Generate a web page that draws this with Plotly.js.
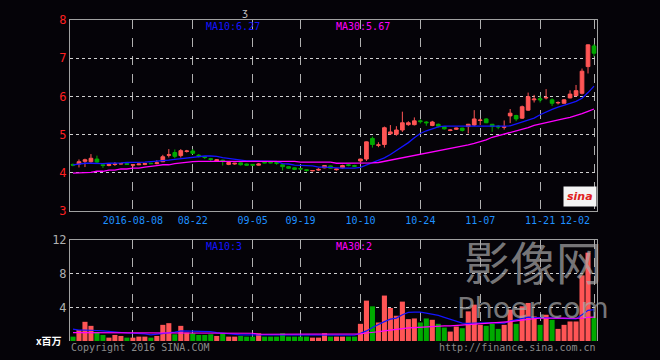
<!DOCTYPE html>
<html><head><meta charset="utf-8">
<script src="https://cdn.plot.ly/plotly-3.0.1.min.js"></script>
<style>html,body{margin:0;padding:0;background:#050308;}#c{width:660px;height:360px;}</style>
</head><body><div id="c"></div>
<script>
const dates = ['2016-07-25','2016-07-26','2016-07-27','2016-07-28','2016-07-29',
'2016-08-01','2016-08-02','2016-08-03','2016-08-04','2016-08-05',
'2016-08-08','2016-08-09','2016-08-10','2016-08-11','2016-08-12',
'2016-08-15','2016-08-16','2016-08-17','2016-08-18','2016-08-19',
'2016-08-22','2016-08-23','2016-08-24','2016-08-25','2016-08-26',
'2016-08-29','2016-08-30','2016-08-31','2016-09-01','2016-09-02',
'2016-09-05','2016-09-06','2016-09-07','2016-09-08','2016-09-09',
'2016-09-12','2016-09-13','2016-09-14',
'2016-09-19','2016-09-20','2016-09-21','2016-09-22','2016-09-23',
'2016-09-26','2016-09-27','2016-09-28','2016-09-29','2016-09-30',
'2016-10-10','2016-10-11','2016-10-12','2016-10-13','2016-10-14',
'2016-10-17','2016-10-18','2016-10-19','2016-10-20','2016-10-21',
'2016-10-24','2016-10-25','2016-10-26','2016-10-27','2016-10-28',
'2016-10-31','2016-11-01','2016-11-02','2016-11-03','2016-11-04',
'2016-11-07','2016-11-08','2016-11-09','2016-11-10','2016-11-11',
'2016-11-14','2016-11-15','2016-11-16','2016-11-17','2016-11-18',
'2016-11-21','2016-11-22','2016-11-23','2016-11-24','2016-11-25',
'2016-11-28','2016-11-29','2016-11-30','2016-12-01','2016-12-02'];

const open = [4.22,4.23,4.30,4.29,4.36,4.21,4.19,4.22,4.23,4.24,
4.20,4.21,4.22,4.25,4.24,4.29,4.46,4.53,4.45,4.56,
4.57,4.46,4.42,4.37,4.31,4.33,4.22,4.23,4.26,4.23,
4.22,4.20,4.28,4.28,4.27,4.21,4.16,4.13,4.11,4.08,
4.05,4.07,4.13,4.18,4.08,4.13,4.21,4.19,4.31,4.36,
4.90,4.72,4.74,5.02,5.01,5.12,5.26,5.26,5.36,5.33,
5.24,5.27,5.21,5.11,5.14,5.17,5.21,5.25,5.37,5.41,
5.27,5.22,5.19,5.49,5.50,5.43,5.64,5.91,5.94,5.96,
5.91,5.83,5.82,5.96,6.02,6.08,6.78,7.32];
const high = [4.24,4.35,4.37,4.49,4.45,4.22,4.23,4.28,4.25,4.25,
4.22,4.24,4.25,4.26,4.33,4.47,4.62,4.61,4.62,4.60,
4.62,4.49,4.44,4.39,4.36,4.34,4.28,4.26,4.27,4.24,
4.23,4.25,4.29,4.29,4.28,4.22,4.17,4.14,4.13,4.09,
4.07,4.12,4.20,4.19,4.11,4.21,4.23,4.21,4.37,4.82,
4.95,4.80,5.21,5.25,5.22,5.60,5.35,5.45,5.40,5.35,
5.36,5.29,5.22,5.14,5.18,5.18,5.28,5.64,5.42,5.43,
5.28,5.25,5.37,5.67,5.52,5.76,6.10,6.04,6.02,6.19,
5.95,5.87,5.93,6.16,6.30,6.73,7.36,7.37];
const low = [4.17,4.14,4.15,4.26,4.23,4.13,4.17,4.18,4.22,4.21,
4.15,4.20,4.20,4.23,4.22,4.28,4.40,4.38,4.40,4.53,
4.49,4.40,4.36,4.29,4.29,4.19,4.20,4.21,4.19,4.19,
4.19,4.19,4.25,4.25,4.21,4.06,4.11,4.07,4.07,4.03,
4.04,4.05,4.12,4.11,4.06,4.11,4.17,4.15,4.24,4.31,
4.66,4.67,4.66,5.00,4.97,5.07,5.23,5.24,5.29,5.23,
5.22,5.18,5.13,5.09,5.12,5.08,5.03,5.22,5.25,5.30,
5.07,5.14,5.13,5.30,5.35,5.41,5.62,5.84,5.84,5.92,
5.75,5.79,5.81,5.95,6.00,6.05,6.60,7.04];
const close = [4.20,4.29,4.34,4.38,4.28,4.19,4.22,4.23,4.24,4.22,
4.21,4.23,4.24,4.24,4.26,4.42,4.47,4.43,4.58,4.57,
4.51,4.44,4.40,4.35,4.34,4.30,4.27,4.25,4.21,4.20,
4.20,4.23,4.26,4.26,4.25,4.16,4.12,4.09,4.10,4.06,
4.06,4.09,4.19,4.12,4.10,4.19,4.19,4.17,4.36,4.81,
4.74,4.73,5.18,5.07,5.12,5.31,5.31,5.36,5.34,5.31,
5.33,5.22,5.15,5.12,5.17,5.11,5.27,5.41,5.38,5.31,
5.21,5.20,5.21,5.56,5.41,5.73,5.99,5.93,5.91,5.97,
5.82,5.84,5.91,6.06,6.15,6.66,7.35,7.13];

const ma10 = [4.21,4.23,4.25,4.25,4.24,4.24,4.25,4.25,4.26,4.27,
4.27,4.27,4.28,4.29,4.30,4.31,4.33,4.35,4.37,4.39,
4.41,4.43,4.44,4.44,4.43,4.40,4.38,4.36,4.33,4.31,
4.31,4.31,4.31,4.31,4.30,4.24,4.23,4.20,4.20,4.19,
4.18,4.15,4.15,4.14,4.12,4.12,4.12,4.12,4.14,4.20,
4.26,4.32,4.39,4.48,4.58,4.68,4.79,4.92,5.03,5.10,
5.16,5.20,5.22,5.22,5.22,5.22,5.22,5.22,5.21,5.21,
5.21,5.22,5.22,5.23,5.28,5.33,5.38,5.43,5.52,5.60,
5.66,5.72,5.78,5.82,5.87,5.95,6.10,6.27];
const ma30 = [3.99,4.00,4.00,4.01,4.04,4.04,4.07,4.07,4.10,4.10,
4.12,4.12,4.15,4.16,4.19,4.21,4.21,4.24,4.26,4.28,
4.29,4.30,4.30,4.30,4.30,4.30,4.30,4.31,4.31,4.31,
4.31,4.31,4.31,4.31,4.31,4.31,4.30,4.30,4.28,4.28,
4.28,4.28,4.28,4.28,4.25,4.25,4.25,4.25,4.25,4.26,
4.26,4.27,4.30,4.33,4.36,4.39,4.42,4.45,4.48,4.51,
4.54,4.57,4.60,4.63,4.66,4.70,4.73,4.77,4.81,4.86,
4.93,4.97,5.00,5.04,5.09,5.13,5.18,5.24,5.28,5.32,
5.36,5.39,5.42,5.45,5.49,5.55,5.61,5.67];

const volume = [0.52,1.3,2.28,1.8,1.08,0.72,0.4,0.72,0.6,0.4,
0.4,0.52,0.52,0.4,0.6,1.92,2.12,0.8,1.8,1.0,
0.92,0.72,0.72,0.8,0.6,0.92,0.52,0.52,0.6,0.52,
0.52,0.92,0.52,0.52,0.52,0.92,0.52,0.52,0.52,0.52,
0.4,0.4,0.92,0.52,0.52,0.52,0.52,0.52,2.04,4.8,
4.12,2.2,5.4,3.92,3.0,4.68,2.6,2.68,2.2,2.68,
2.52,2.04,1.6,1.12,1.72,1.52,3.52,4.32,1.92,1.8,
2.04,1.44,1.92,3.72,2.04,4.12,4.52,2.92,1.92,3.12,
2.52,1.44,1.92,2.32,2.32,7.8,10.5,2.72];
const volMa10 = [1.4,1.3,1.3,1.3,1.25,1.2,1.12,1.12,1.05,0.95,
0.92,0.92,0.85,0.72,0.8,0.92,0.92,1.05,1.2,1.2,
1.2,1.15,1.12,1.12,1.0,0.92,0.85,0.8,0.72,0.72,
0.72,0.72,0.72,0.72,0.72,0.72,0.72,0.72,0.72,0.72,
0.72,0.72,0.72,0.64,0.64,0.64,0.64,0.7,0.9,1.2,
1.6,2.0,2.3,2.6,2.72,3.12,3.4,3.44,3.44,3.32,
3.2,3.04,2.8,2.6,2.36,2.12,2.1,2.12,2.2,2.24,
2.2,2.12,2.12,2.36,2.52,2.72,2.84,2.8,2.78,2.76,
2.76,2.72,2.68,2.66,2.64,3.12,3.64,3.72];
const volMa30 = [1.0,1.0,1.0,1.0,1.0,1.0,1.0,1.0,0.98,0.98,
0.98,0.98,0.98,0.98,0.98,0.98,0.98,0.98,0.98,0.98,
0.98,0.92,0.92,0.92,0.92,0.92,0.92,0.92,0.92,0.92,
0.92,0.8,0.8,0.8,0.8,0.8,0.8,0.8,0.8,0.8,
0.8,0.8,0.8,0.8,0.8,0.8,0.8,0.8,0.85,0.95,
1.0,1.1,1.2,1.3,1.4,1.45,1.55,1.6,1.65,1.7,
1.7,1.75,1.8,1.8,1.85,1.9,1.95,1.95,2.0,2.05,
2.1,2.15,2.2,2.3,2.4,2.5,2.6,2.65,2.7,2.72,
2.72,2.72,2.72,2.7,2.68,2.72,2.8,2.84];

const tickDates = ['2016-08-08','2016-08-22','2016-09-05','2016-09-19','2016-10-10','2016-10-24','2016-11-07','2016-11-21','2016-12-02'];
const tickLabels = ['2016-08-08','08-22','09-05','09-19','10-10','10-24','11-07','11-21',''];
const lastTickLabel = '12-02';
const priceTicks = [3,4,5,6,7,8];
const volTicks = [4,8,12];

const UP = '#ff5555', DOWN = '#00aa00';
const volColors = close.map((c,i)=> c > open[i] ? UP : DOWN);
const MONO = 'DejaVu Sans Mono, monospace';

const traces = [
  {type:'candlestick', x:dates, open:open, high:high, low:low, close:close,
   xaxis:'x', yaxis:'y', whiskerwidth:0,
   increasing:{line:{color:UP,width:1}, fillcolor:UP},
   decreasing:{line:{color:DOWN,width:1}, fillcolor:DOWN},
   hoverinfo:'skip'},
  {type:'scatter', mode:'lines', x:dates, y:ma10, xaxis:'x', yaxis:'y',
   line:{color:'#1414ff', width:1.3}, hoverinfo:'skip'},
  {type:'scatter', mode:'lines', x:dates, y:ma30, xaxis:'x', yaxis:'y',
   line:{color:'#ff00ff', width:1.3}, hoverinfo:'skip'},
  {type:'bar', x:dates, y:volume, xaxis:'x2', yaxis:'y2',
   marker:{color:volColors, line:{width:0}}, hoverinfo:'skip'},
  {type:'scatter', mode:'lines', x:dates, y:volMa10, xaxis:'x2', yaxis:'y2',
   line:{color:'#1414ff', width:1.2}, hoverinfo:'skip'},
  {type:'scatter', mode:'lines', x:dates, y:volMa30, xaxis:'x2', yaxis:'y2',
   line:{color:'#ff00ff', width:1.2}, hoverinfo:'skip'}
];

const px = v => (v-70)/527;
const py = v => (341-v)/321;

const layout = {
  width:660, height:360,
  margin:{l:70, r:63, t:20, b:19},
  paper_bgcolor:'#050308', plot_bgcolor:'#050308',
  showlegend:false, hovermode:false, bargap:0.15, boxgap:0.12,
  xaxis:{type:'category', categoryorder:'array', categoryarray:dates,
    range:[-0.5, dates.length-0.5], anchor:'y', domain:[0,1],
    rangeslider:{visible:false},
    tickmode:'array', tickvals:tickDates, ticktext:tickLabels, ticks:'',
    tickfont:{family:MONO, size:10, color:'#1e90ff'},
    showgrid:true, gridcolor:'#b0b0b0', griddash:'dash', gridwidth:1,
    showline:true, mirror:true, linecolor:'#a0a0a0', linewidth:1, zeroline:false},
  yaxis:{domain:[0.405,1], range:[3,8], anchor:'x',
    tickmode:'array', tickvals:priceTicks, ticks:'',
    tickfont:{family:MONO, size:12, color:'#ff2020'},
    showgrid:true, gridcolor:'#d0d0d0', griddash:'dot', gridwidth:1,
    showline:true, mirror:true, linecolor:'#a0a0a0', linewidth:1, zeroline:false},
  xaxis2:{type:'category', categoryorder:'array', categoryarray:dates,
    range:[-0.5, dates.length-0.5], anchor:'y2', domain:[0,1], side:'top',
    tickmode:'array', tickvals:tickDates, showticklabels:false, ticks:'',
    showgrid:true, gridcolor:'#b0b0b0', griddash:'dash', gridwidth:1,
    showline:true, linecolor:'#a0a0a0', linewidth:1, zeroline:false},
  yaxis2:{domain:[0,0.3146], range:[0,12], anchor:'x2',
    tickmode:'array', tickvals:volTicks, ticks:'',
    tickfont:{family:MONO, size:12, color:'#b0b0b0'},
    showgrid:true, gridcolor:'#d0d0d0', griddash:'dot', gridwidth:1,
    showline:true, mirror:true, linecolor:'#a0a0a0', linewidth:1, zeroline:false},
  annotations:[
    {text:'<span style="font-size:46px;font-family:Noto Sans CJK SC">影像网</span><br>Phoer.com',
     xref:'paper', yref:'paper', x:px(533), y:py(276), xanchor:'center', yanchor:'middle', align:'center',
     showarrow:false, font:{family:'DejaVu Sans', size:29, color:'rgba(170,170,170,0.7)'}},
    {text:'MA10:6.27', xref:'paper', yref:'paper', x:px(204), y:py(26), xanchor:'left', yanchor:'middle',
     showarrow:false, font:{family:MONO, size:10, color:'#1414ff'}},
    {text:'MA30:5.67', xref:'paper', yref:'paper', x:px(334), y:py(26), xanchor:'left', yanchor:'middle',
     showarrow:false, font:{family:MONO, size:10, color:'#ff00ff'}},
    {text:'MA10:3', xref:'paper', yref:'paper', x:px(204), y:py(246), xanchor:'left', yanchor:'middle',
     showarrow:false, font:{family:MONO, size:10, color:'#1414ff'}},
    {text:'MA30:2', xref:'paper', yref:'paper', x:px(334), y:py(246), xanchor:'left', yanchor:'middle',
     showarrow:false, font:{family:MONO, size:10, color:'#ff00ff'}},
    {text:'ʒ', xref:'paper', yref:'paper', x:px(245), y:py(12), xanchor:'center', yanchor:'middle',
     showarrow:false, font:{family:MONO, size:10, color:'#c0c0c0'}},
    {text:lastTickLabel, xref:'paper', yref:'paper', x:px(592), y:py(220), xanchor:'right', yanchor:'middle',
     showarrow:false, font:{family:MONO, size:10, color:'#1e90ff'}},
    {text:'Copyright 2016 SINA.COM', xref:'paper', yref:'paper', x:px(69), y:py(347), xanchor:'left', yanchor:'middle',
     showarrow:false, font:{family:MONO, size:10, color:'#8a8a8a'}},
    {text:'http://finance.sina.com.cn', xref:'paper', yref:'paper', x:px(598), y:py(347), xanchor:'right', yanchor:'middle',
     showarrow:false, font:{family:MONO, size:10, color:'#8a8a8a'}},
    {text:'<b>x百万</b>', xref:'paper', yref:'paper', x:px(64), y:py(340), xanchor:'right', yanchor:'middle',
     showarrow:false, font:{family:'Noto Sans CJK SC', size:10, color:'#ffffff'}},
    {text:'<b><i>sina</i></b>', xref:'paper', yref:'paper', x:px(597), y:py(197), xanchor:'right', yanchor:'middle',
     showarrow:false, bgcolor:'#f4f4f4', borderpad:3,
     font:{family:'DejaVu Sans', size:11, color:'#e02020'}}
  ]
};

Plotly.newPlot('c', traces, layout, {staticPlot:true, displayModeBar:false});
</script></body></html>
